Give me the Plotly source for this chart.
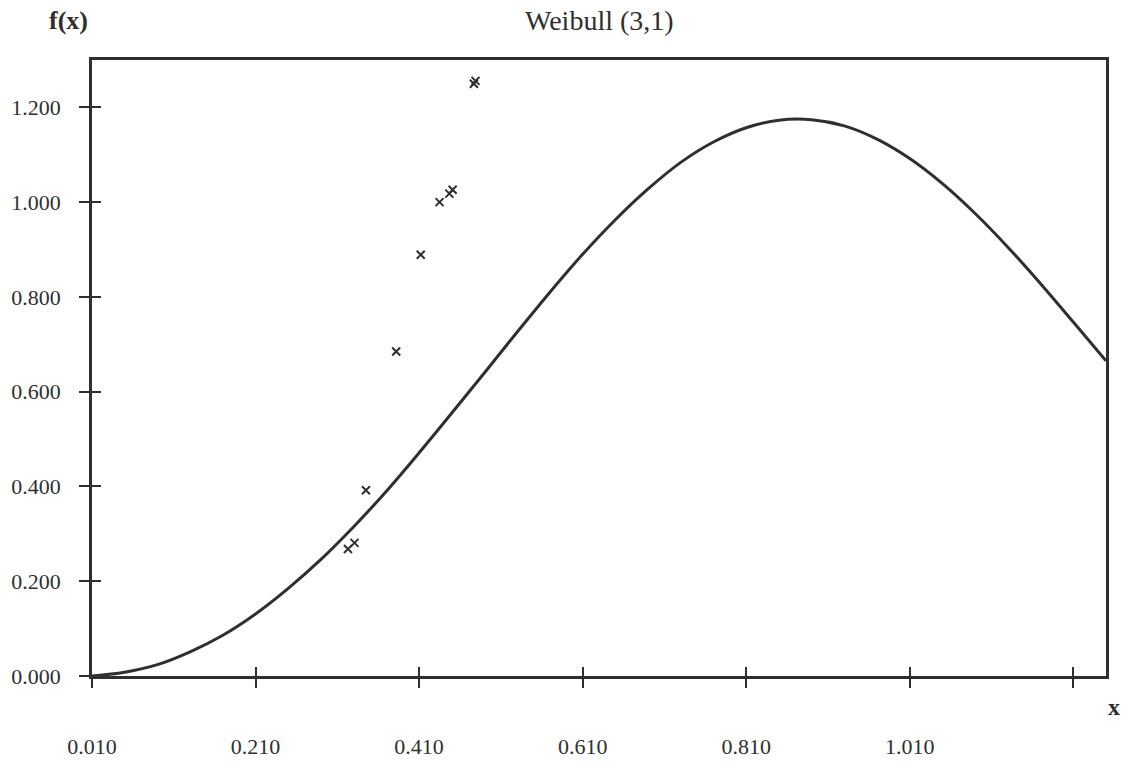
import plotly.graph_objects as go

# Curve values
curve_x = [0.01, 0.05, 0.09, 0.13, 0.17, 0.21, 0.25, 0.29, 0.33, 0.37, 0.41, 0.45,
           0.49, 0.53, 0.57, 0.61, 0.65, 0.69, 0.73, 0.77, 0.81, 0.85, 0.89, 0.93,
           0.97, 1.01, 1.05, 1.09, 1.13, 1.17, 1.21, 1.25]
curve_y = [0.000, 0.008, 0.024, 0.051, 0.086, 0.131, 0.185, 0.246, 0.315, 0.390, 0.471, 0.555,
           0.640, 0.726, 0.810, 0.890, 0.963, 1.028, 1.084, 1.127, 1.157, 1.173, 1.174, 1.161,
           1.133, 1.092, 1.039, 0.976, 0.905, 0.828, 0.747, 0.665]

# Scatter points (x markers)
pts_x = [0.323, 0.331, 0.345, 0.382, 0.412, 0.435, 0.447, 0.451, 0.477, 0.479]
pts_y = [0.268, 0.281, 0.392, 0.685, 0.889, 1.000, 1.018, 1.026, 1.250, 1.256]

# Ticks
x_tickvals = [0.01, 0.21, 0.41, 0.61, 0.81, 1.01, 1.21]
x_ticktext = ["0.010", "0.210", "0.410", "0.610", "0.810", "1.010", ""]
y_tickvals = [0.0, 0.2, 0.4, 0.6, 0.8, 1.0, 1.2]
y_ticktext = ["0.000", "0.200", "0.400", "0.600", "0.800", "1.000", "1.200"]

X_RANGE = [0.01, 1.25]
Y_RANGE = [0.0, 1.30]
INK = "#2f2f2f"
FONT = "Liberation Serif"
TICK_SIZE = 22

fig = go.Figure()
fig.add_trace(go.Scatter(x=curve_x, y=curve_y, mode="lines", line=dict(color=INK, width=3, shape="spline"),
                         showlegend=False, hoverinfo="skip"))
fig.add_trace(go.Scatter(x=pts_x, y=pts_y, mode="markers",
                         marker=dict(symbol="x-thin", size=8, line=dict(color=INK, width=2)),
                         showlegend=False))
# invisible trace for the overlay axes (inner half of cross ticks)
fig.add_trace(go.Scatter(x=[X_RANGE[0]], y=[Y_RANGE[0]], xaxis="x2", yaxis="y2", mode="markers",
                         marker=dict(opacity=0), showlegend=False, hoverinfo="skip"))

fig.update_layout(
    width=1136, height=765,
    margin=dict(l=92, r=30, t=60, b=89, autoexpand=False),
    paper_bgcolor="white", plot_bgcolor="white",
    font=dict(family=FONT, color=INK, size=TICK_SIZE),
    xaxis=dict(range=X_RANGE, tickvals=x_tickvals, ticktext=x_ticktext, ticks="outside", ticklen=9,
               tickwidth=1.5, tickcolor=INK, showgrid=False, zeroline=False, showline=True,
               linecolor=INK, linewidth=2.5, mirror=True, ticklabelstandoff=40, automargin=False,
               tickfont=dict(family=FONT, size=TICK_SIZE, color=INK)),
    yaxis=dict(range=Y_RANGE, tickvals=y_tickvals, ticktext=y_ticktext, ticks="outside", ticklen=10,
               tickwidth=1.5, tickcolor=INK, showgrid=False, zeroline=False, showline=True,
               linecolor=INK, linewidth=2.5, mirror=True, ticklabelstandoff=14, automargin=False,
               tickfont=dict(family=FONT, size=TICK_SIZE, color=INK)),
    xaxis2=dict(range=X_RANGE, overlaying="x", tickvals=x_tickvals, ticks="inside", ticklen=9,
                tickwidth=1.5, tickcolor=INK, showticklabels=False, showgrid=False, zeroline=False,
                showline=False, anchor="y2", automargin=False),
    yaxis2=dict(range=Y_RANGE, overlaying="y", tickvals=y_tickvals, ticks="inside", ticklen=9,
                tickwidth=1.5, tickcolor=INK, showticklabels=False, showgrid=False, zeroline=False,
                showline=False, anchor="x2", automargin=False),
    annotations=[
        dict(text="Weibull (3,1)", x=0.5, y=20, xref="paper", yref="paper", yanchor="middle",
             showarrow=False, font=dict(family=FONT, size=28, color=INK)),
        dict(text="<b>f(x)</b>", x=47, y=20, xref="paper", yref="paper", yanchor="middle", showarrow=False,
             font=dict(family=FONT, size=26, color=INK)),
        dict(text="<b>x</b>", x=1122, y=707, xref="paper", yref="paper", yanchor="middle", showarrow=False,
             font=dict(family=FONT, size=24, color=INK)),
    ],
)

# convert annotation pixel positions to paper coords
pw = 1136 - 92 - 30
ph = 765 - 60 - 89
for a in fig.layout.annotations:
    if a.text == "Weibull (3,1)":
        a.y = (765 - 89 - a.y) / ph
    else:
        a.x = (a.x - 92) / pw
        a.y = (765 - 89 - a.y) / ph

fig.write_html("out.html")
